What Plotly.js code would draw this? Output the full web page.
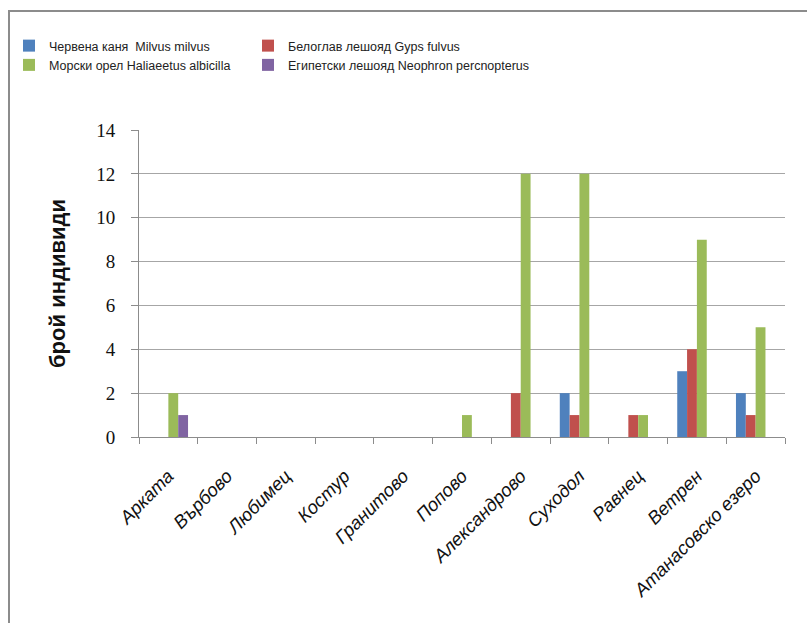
<!DOCTYPE html>
<html>
<head>
<meta charset="utf-8">
<script src="https://cdn.plot.ly/plotly-3.0.1.min.js"></script>
<style>
  html, body { margin: 0; padding: 0; background: #fff; }
  #wrap { position: relative; width: 807px; height: 623px; }
  #chart { position: absolute; left: 0; top: 0; width: 807px; height: 623px; }
  #frame { position: absolute; left: 8px; top: 10px; width: 820px; height: 640px;
           border-top: 2px solid #8c8c8c; border-left: 2px solid #8c8c8c; pointer-events: none; }
</style>
</head>
<body>
<div id="wrap">
  <div id="chart"></div>
  <div id="frame"></div>
</div>
<script>
const categories = ["Арката", "Върбово", "Любимец", "Костур", "Гранитово", "Попово",
                    "Александрово", "Суходол", "Равнец", "Ветрен", "Атанасовско езеро"];
const seriesNames = ["Червена каня  Milvus milvus", "Белоглав лешояд Gyps fulvus",
                     "Морски орел Haliaeetus albicilla", "Египетски лешояд Neophron percnopterus"];
const milvus     = [0, 0, 0, 0, 0, 0, 0, 2, 0, 3, 2];
const gyps       = [0, 0, 0, 0, 0, 0, 2, 1, 1, 4, 1];
const haliaeetus = [2, 0, 0, 0, 0, 1, 12, 12, 1, 9, 5];
const neophron   = [1, 0, 0, 0, 0, 0, 0, 0, 0, 0, 0];
const yTicks = [0, 2, 4, 6, 8, 10, 12, 14];
const yTitle = "брой индивиди";

const colors = ["#4F81BD", "#C0504D", "#9BBB59", "#8064A2"];
const values = [milvus, gyps, haliaeetus, neophron];
const legendOf = ["legend", "legend2", "legend", "legend2"];

const traces = values.map((v, i) => ({
  type: "bar",
  name: seriesNames[i],
  x: categories,
  y: v,
  legend: legendOf[i],
  marker: { color: colors[i], line: { width: 0 } },
  hoverinfo: "x+y+name"
}));

const legendFont = { family: "Liberation Sans, Arial, sans-serif", size: 12.5, color: "#222" };
const legendBase = {
  orientation: "h",
  xref: "container", yref: "container",
  xanchor: "left", yanchor: "top",
  y: 1 - 31/623,
  entrywidth: 420, entrywidthmode: "pixels",
  bgcolor: "rgba(0,0,0,0)",
  traceorder: "normal",
  font: legendFont,
  itemclick: false, itemdoubleclick: false,
  tracegroupgap: 0
};

const layout = {
  width: 807, height: 623,
  margin: { l: 139, r: 22, t: 130, b: 186, pad: 0, autoexpand: false },
  paper_bgcolor: "#ffffff", plot_bgcolor: "#ffffff",
  barmode: "group",
  bargap: 0.33, bargroupgap: 0,
  showlegend: true,
  legend: Object.assign({}, legendBase, { x: 9/807 }),
  legend2: Object.assign({}, legendBase, { x: 248/807 }),
  xaxis: {
    type: "category",
    tickangle: -45,
    ticks: "outside", ticklen: 6, tickcolor: "#8c8c8c", tickwidth: 1,
    tickson: "boundaries",
    ticklabelstandoff: 20,
    showline: true, linecolor: "#8c8c8c", linewidth: 1,
    showgrid: false, zeroline: false,
    tickfont: { family: "Liberation Sans, Arial, sans-serif", size: 18.5, color: "#111", style: "italic" },
    automargin: false
  },
  yaxis: {
    range: [0, 14],
    tickmode: "array", tickvals: yTicks, ticktext: yTicks.map(String),
    ticks: "outside", ticklen: 7, tickcolor: "#8c8c8c", tickwidth: 1,
    ticklabelstandoff: 12,
    showline: true, linecolor: "#8c8c8c", linewidth: 1,
    showgrid: true, gridcolor: "#a6a6a6", gridwidth: 1,
    zeroline: false,
    tickfont: { family: "Liberation Serif, Times New Roman, serif", size: 19, color: "#111" },
    title: { text: yTitle, standoff: 24,
             font: { family: "Liberation Sans, Arial, sans-serif", size: 22, color: "#111", weight: "bold" } },
    automargin: false
  }
};

Plotly.newPlot("chart", traces, layout, { displayModeBar: false, staticPlot: true });
</script>
</body>
</html>
